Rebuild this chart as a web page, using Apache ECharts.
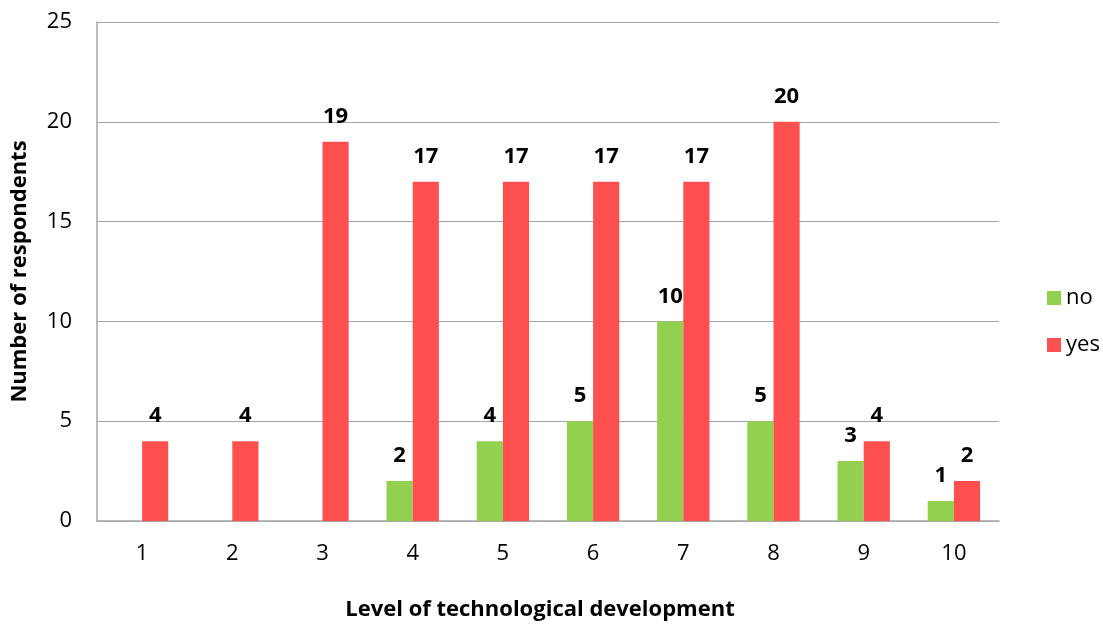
<!DOCTYPE html>
<html>
<head>
<meta charset="utf-8">
<script src="https://cdn.jsdelivr.net/npm/echarts@6/dist/echarts.min.js"></script>
<style>
    html, body { margin: 0; padding: 0; background: #fff; }
    #chart { width: 1103px; height: 626px; }
</style>
</head>
<body>
<div id="chart"></div>
<script>
    var levels = ['1', '2', '3', '4', '5', '6', '7', '8', '9', '10'];
    var noValues = [null, null, null, 2, 4, 5, 10, 5, 3, 1];
    var yesValues = [4, 4, 19, 17, 17, 17, 17, 20, 4, 2];
    var fontName = '"Open Sans", "Liberation Sans", sans-serif';

    var labelStyle = {
        show: true,
        position: 'top',
        distance: 14,
        fontFamily: fontName,
        fontWeight: 'bold',
        fontSize: 22,
        color: '#000'
    };

    var option = {
        animation: false,
        textStyle: { fontFamily: fontName },
        grid: { left: 97, right: 104, top: 22, bottom: 104 },
        legend: {
            orient: 'vertical',
            left: 1042,
            top: 282,
            itemWidth: 14,
            itemHeight: 14,
            itemGap: 25,
            icon: 'rect',
            textStyle: { fontSize: 22, color: '#000', fontFamily: fontName },
            data: ['no', 'yes']
        },
        xAxis: {
            type: 'category',
            data: levels,
            name: 'Level of technological development',
            nameLocation: 'middle',
            nameGap: 78,
            nameTextStyle: { fontSize: 22, fontWeight: 'bold', color: '#000', padding: [0, 16, 0, 0] },
            axisLine: { lineStyle: { color: '#a6a6a6', width: 1.5 } },
            axisTick: { show: false },
            axisLabel: { fontSize: 22, color: '#000', margin: 22 }
        },
        yAxis: {
            type: 'value',
            min: 0,
            max: 25,
            interval: 5,
            name: 'Number of respondents',
            nameLocation: 'middle',
            nameRotate: 90,
            nameGap: 66,
            nameTextStyle: { fontSize: 22, fontWeight: 'bold', color: '#000' },
            axisLine: { show: true, lineStyle: { color: '#a6a6a6', width: 1.5 } },
            axisTick: { show: false },
            axisLabel: { fontSize: 22, color: '#000', margin: 25 },
            splitLine: { lineStyle: { color: '#a6a6a6', width: 1 } }
        },
        series: [
            {
                name: 'no',
                type: 'bar',
                data: noValues,
                barGap: '0%',
                barCategoryGap: '42%',
                itemStyle: { color: '#92D050' },
                label: labelStyle
            },
            {
                name: 'yes',
                type: 'bar',
                data: yesValues,
                itemStyle: { color: '#FF5050' },
                label: labelStyle
            }
        ]
    };

    var chart = echarts.init(document.getElementById('chart'));
    chart.setOption(option);
</script>
</body>
</html>
